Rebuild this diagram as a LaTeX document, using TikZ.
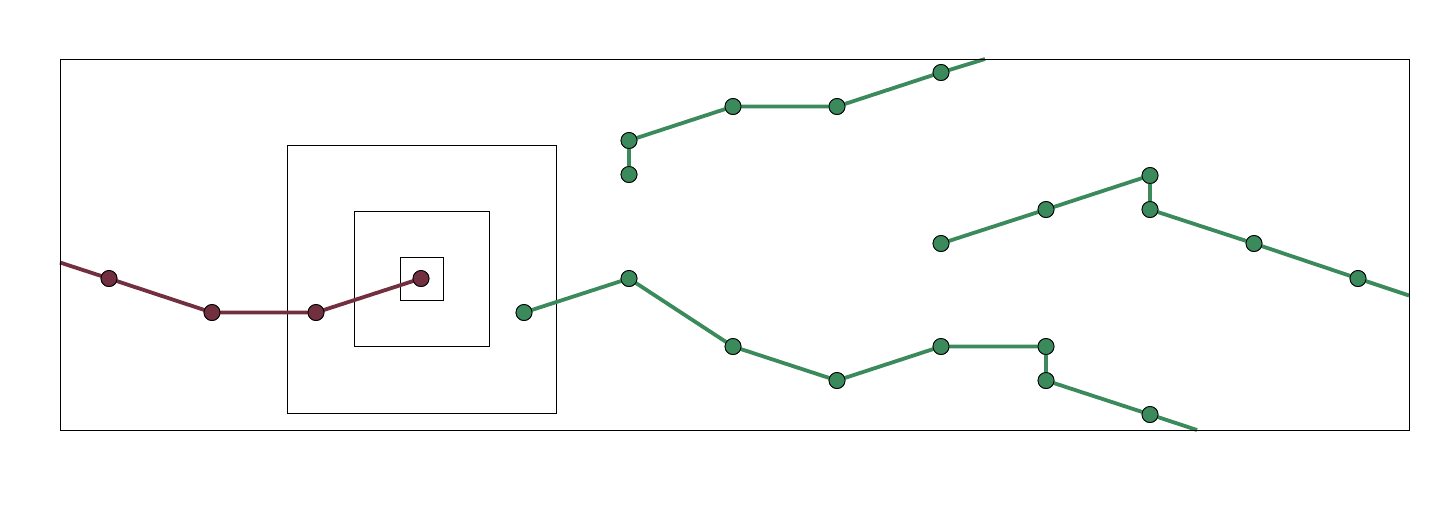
\documentclass[tikz,border=0pt]{standalone}
\definecolor{maroonc}{HTML}{722F3F}
\definecolor{greenc}{HTML}{3A8A5C}
\begin{document}
\begin{tikzpicture}[x=1pt,y=-1pt,
  dotr/.style={circle,draw=black,line width=0.8pt,fill=maroonc,minimum size=16pt,inner sep=0pt},
  dotg/.style={circle,draw=black,line width=0.8pt,fill=greenc,minimum size=16pt,inner sep=0pt},
  linr/.style={draw=maroonc,line width=3.8pt},
  ling/.style={draw=greenc,line width=3.8pt},
  frame/.style={draw=black,line width=0.8pt}]
\useasboundingbox (0,0) rectangle (1440,504);
% squares
\draw[frame] (287,145) rectangle (556,413);
\draw[frame] (354,211) rectangle (489,346);
\draw[frame] (400,257) rectangle (443,300);
% free ends at the frame
\coordinate (rs) at (60,262.5);
\coordinate (g1e) at (985,59);
\coordinate (g2e) at (1409,295.5);
\coordinate (g3e) at (1197,430);
% red path nodes
\node[dotr] (r1) at (109,278.5) {};
\node[dotr] (r2) at (212,312.5) {};
\node[dotr] (r3) at (316,312.5) {};
\node[dotr] (r4) at (421,278.5) {};
% green path 1
\node[dotg] (a1) at (629,174.5) {};
\node[dotg] (a2) at (629,140.5) {};
\node[dotg] (a3) at (733,106.5) {};
\node[dotg] (a4) at (837,106.5) {};
\node[dotg] (a5) at (941,72.5) {};
% green path 2
\node[dotg] (b1) at (941,243.5) {};
\node[dotg] (b2) at (1046,209.5) {};
\node[dotg] (b3) at (1150,175.5) {};
\node[dotg] (b4) at (1150,209.5) {};
\node[dotg] (b5) at (1254,243.5) {};
\node[dotg] (b6) at (1358,278.5) {};
% green path 3
\node[dotg] (c1) at (524,312.5) {};
\node[dotg] (c2) at (629,278.5) {};
\node[dotg] (c3) at (733,346.5) {};
\node[dotg] (c4) at (837,380.5) {};
\node[dotg] (c5) at (941,346.5) {};
\node[dotg] (c6) at (1046,346.5) {};
\node[dotg] (c7) at (1046,380.5) {};
\node[dotg] (c8) at (1150,414.5) {};
% connectors
\path[linr] (rs) -- (r1.center) -- (r2.center) -- (r3.center) -- (r4.center);
\path[ling] (a1.center) -- (a2.center) -- (a3.center) -- (a4.center) -- (a5.center) -- (g1e);
\path[ling] (b1.center) -- (b2.center) -- (b3.center) -- (b4.center) -- (b5.center) -- (b6.center) -- (g2e);
\path[ling] (c1.center) -- (c2.center) -- (c3.center) -- (c4.center) -- (c5.center) -- (c6.center) -- (c7.center) -- (c8.center) -- (g3e);
% nodes drawn again on top of the connectors
\foreach \n/\s in {r1/dotr,r2/dotr,r3/dotr,r4/dotr,a1/dotg,a2/dotg,a3/dotg,a4/dotg,a5/dotg,b1/dotg,b2/dotg,b3/dotg,b4/dotg,b5/dotg,b6/dotg,c1/dotg,c2/dotg,c3/dotg,c4/dotg,c5/dotg,c6/dotg,c7/dotg,c8/dotg}
  \node[\s] at (\n.center) {};
\draw[frame] (60,59) rectangle (1409,430);
\end{tikzpicture}
\end{document}
